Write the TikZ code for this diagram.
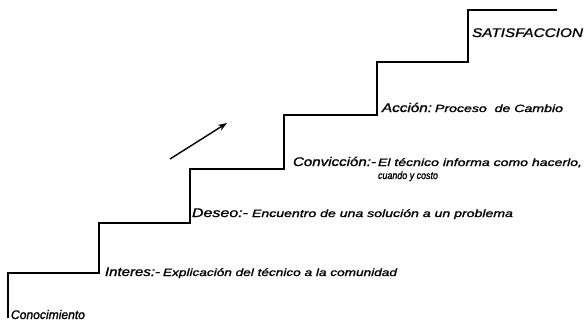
\documentclass[tikz,border=0pt]{standalone}
\usepackage{fontspec}
\setmainfont{Liberation Sans}
\newfontfamily\scanfont[FakeBold=1.2]{Liberation Sans}
\usetikzlibrary{arrows.meta}
\newlength\fwl
\newcommand{\fw}[2]{\settowidth{\fwl}{#2}\pgfmathsetmacro{\fwf}{#1/\fwl}\scalebox{\fwf}[1]{#2}}
\begin{document}
\begin{tikzpicture}[x=1pt,y=-1pt,
  stair/.style={line width=1.6pt, line join=miter, line cap=butt},
  lbl/.style={anchor=base west, inner sep=0pt, outer sep=0pt, font=\scanfont\itshape\fontsize{12.5}{13}\selectfont},
  expl/.style={anchor=base west, inner sep=0pt, outer sep=0pt, font=\scanfont\itshape\fontsize{10.5}{11}\selectfont},
  pointer/.style={line width=1.4pt, -{Stealth[length=9pt,width=6.5pt]}}]
\useasboundingbox (0,0) rectangle (585,321);
\fill[white] (0,0) rectangle (585,321);
% staircase corners
\coordinate (s0) at (8,318);
\coordinate (s1) at (8,273);
\coordinate (s2) at (99,273);
\coordinate (s3) at (99,223);
\coordinate (s4) at (190,223);
\coordinate (s5) at (190,169);
\coordinate (s6) at (284,169);
\coordinate (s7) at (284,115);
\coordinate (s8) at (377,115);
\coordinate (s9) at (377,62);
\coordinate (s10) at (468,62);
\coordinate (s11) at (468,10);
\coordinate (s12) at (557,10);
\draw[stair] (s0) -- (s1) -- (s2) -- (s3) -- (s4) -- (s5) -- (s6) -- (s7) -- (s8) -- (s9) -- (s10) -- (s11) -- (s12);
% arrow
\coordinate (a0) at (170,159);
\coordinate (a1) at (227,123);
\draw[pointer] (a0) -- (a1);
% labels
\node[lbl] (cono) at (11,319) {\fw{74}{Conocimiento}};
\node[lbl] (inte) at (105,276) {\fw{55}{Interes:-}};
\node[expl] (intex) at (163,276) {\fw{234}{Explicación del técnico a la comunidad}};
\node[lbl] (dese) at (192,217) {\fw{56}{Deseo:-}};
\node[expl] (desex) at (252,217) {\fw{261}{Encuentro de una solución a un problema}};
\node[lbl] (conv) at (293,166) {\fw{83}{Convicción:-}};
\node[expl] (convx) at (378,166) {\fw{204}{El técnico informa como hacerlo,}};
\node[expl] (convy) at (378,179) {\fw{60}{cuando y costo}};
\node[lbl] (acci) at (382,112) {\fw{50}{Acción:}};
\node[expl] (accx) at (435,112) {\fw{128}{Proceso\ \ de Cambio}};
\node[lbl] (sati) at (472,37) {\fw{111}{SATISFACCION}};
\end{tikzpicture}
\end{document}
